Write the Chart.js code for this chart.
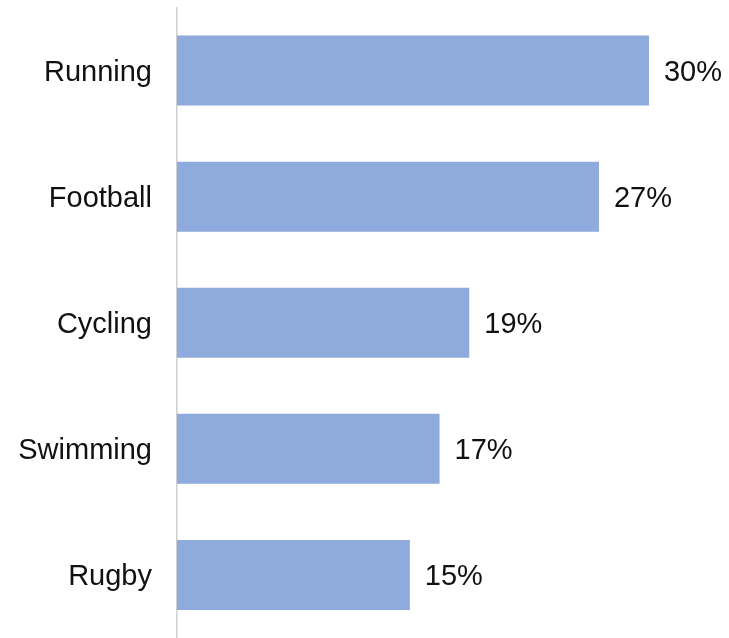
<!DOCTYPE html>
<html>
<head>
<meta charset="utf-8">
<script src="https://cdn.jsdelivr.net/npm/chart.js@4"></script>
<style>
  body { margin: 0; background: #fff; }
</style>
</head>
<body>
<canvas id="myChart" width="729" height="638"></canvas>
<script>
// sports and their share
var sports = ['Running', 'Football', 'Cycling', 'Swimming', 'Rugby'];
var shares = [30.2, 27.0, 18.7, 16.8, 14.9];
var shareLabels = ['30%', '27%', '19%', '17%', '15%'];

var labelFont = '29px "Liberation Sans", Arial, sans-serif';

// draws the percentage to the right of each bar
var valueLabels = {
  id: 'valueLabels',
  afterDatasetsDraw: function(chart) {
    var ctx = chart.ctx;
    var meta = chart.getDatasetMeta(0);
    ctx.save();
    ctx.font = labelFont;
    ctx.fillStyle = '#111';
    ctx.textAlign = 'left';
    ctx.textBaseline = 'middle';
    meta.data.forEach(function(bar, i) {
      ctx.fillText(shareLabels[i], bar.x + 15, bar.y + 2);
    });
    ctx.restore();
  }
};

var ctx = document.getElementById('myChart');

var myChart = new Chart(ctx, {
  type: 'bar',
  data: {
    labels: sports,
    datasets: [{
      data: shares,
      backgroundColor: '#8FAADC',
      borderWidth: 0,
      barPercentage: 0.555,
      categoryPercentage: 1
    }]
  },
  options: {
    indexAxis: 'y',
    responsive: false,
    animation: false,
    layout: {
      padding: { top: 7.5, right: 5, bottom: 0, left: 0 }
    },
    plugins: {
      legend: { display: false },
      tooltip: { enabled: false }
    },
    scales: {
      x: {
        display: false,
        min: 0,
        max: 35
      },
      y: {
        afterFit: function(scale) {
          scale.width = 177;
          scale.paddingTop = 0;
          scale.paddingBottom = 0;
        },
        grid: { display: false, drawTicks: false },
        border: { display: true, color: '#cfcfcf', width: 1.5 },
        ticks: {
          padding: 25,
          labelOffset: 2,
          color: '#111',
          font: { family: '"Liberation Sans", Arial, sans-serif', size: 29 }
        }
      }
    }
  },
  plugins: [valueLabels]
});
</script>
</body>
</html>
